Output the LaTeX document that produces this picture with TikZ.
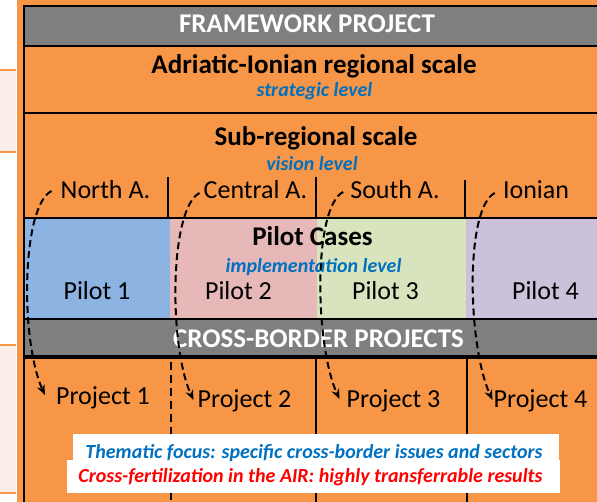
\documentclass[tikz,border=0pt]{standalone}
\usepackage{fontspec}
\setmainfont{Carlito}
\usetikzlibrary{arrows.meta}

\begin{document}
\begin{tikzpicture}[x=1pt,y=-1pt,
  scaletext/.style={anchor=base,inner sep=0pt,font=\fontsize{26}{28}\selectfont},
  headtext/.style={scaletext,font=\fontsize{27}{29}\selectfont\bfseries},
  leveltext/.style={anchor=base,inner sep=0pt,text=levelblue,font=\fontsize{20}{22}\selectfont\bfseries\itshape},
  flowarrow/.style={dash pattern=on 7pt off 4pt,line width=2pt,-{Stealth[length=10pt,width=8pt]}},
  divider/.style={line width=2pt}]
% Define scheme colours
\definecolor{frameorange}{RGB}{247,150,70}
\definecolor{framegray}{RGB}{127,127,127}
\definecolor{pilotblue}{RGB}{141,179,226}
\definecolor{pilotpink}{RGB}{230,185,184}
\definecolor{pilotgreen}{RGB}{215,228,189}
\definecolor{pilotpurple}{RGB}{204,193,218}
\definecolor{levelblue}{RGB}{0,112,192}
\definecolor{sidepink}{RGB}{251,238,233}

\fill[white] (0,0) rectangle (597,502);
\useasboundingbox (0,0) rectangle (597,502);

% Side panels
\fill[sidepink] (0,70) rectangle (16,152);
\draw[frameorange,line width=2pt] (0,70) -- (16,70) (0,152) -- (16,152);
\fill[sidepink] (0,345) rectangle (16,493);
\draw[frameorange,line width=2pt] (0,345) -- (16,345) (0,493) -- (16,493);

% Draw frame and rows
\fill[frameorange] (17,0) rectangle (597,502);
\fill[framegray] (24,6) rectangle (597,46);
\fill[pilotblue] (24,218) rectangle (170,319);
\fill[pilotpink] (170,218) rectangle (317,319);
\fill[pilotgreen] (317,218) rectangle (466,319);
\fill[pilotpurple] (466,218) rectangle (597,319);
\fill[framegray] (24,319) rectangle (597,357);

\draw[divider,line width=2.5pt] (24,502) -- (24,6) -- (597,6);
\foreach \y in {46,113,218,319}
  \draw[divider] (24,\y) -- (597,\y);
\draw[line width=4pt] (24,357) -- (597,357);
\draw[divider] (168,177) -- (168,218) (316,177) -- (316,218) (465,180) -- (465,218);
\draw[divider] (316,357) -- (316,502) (467,357) -- (467,502);
\draw[divider,dash pattern=on 8pt off 5pt] (171,362) -- (171,502);

% Add scales and levels
\node[headtext,text=white] (framework) at (307,33) {FRAMEWORK PROJECT};
\node[headtext] (regional) at (314,74) {Adriatic-Ionian regional scale};
\node[leveltext] (strategic) at (314.5,97) {strategic level};
\node[headtext] (subregional) at (316,146) {Sub-regional scale};
\node[leveltext] (vision) at (312,171) {vision level};

\node[scaletext] (north) at (105.5,199) {North A.};
\node[scaletext] (central) at (255.5,199) {Central A.};
\node[scaletext] (south) at (395,199) {South A.};
\node[scaletext] (ionian) at (536,199) {Ionian};

\node[headtext] (pilotcases) at (312.5,246) {Pilot Cases};
\node[leveltext] (implementation) at (313.5,273) {implementation level};
\node[scaletext] (pilot1) at (97,300) {Pilot 1};
\node[scaletext] (pilot2) at (238.5,300) {Pilot 2};
\node[scaletext] (pilot3) at (385.5,300) {Pilot 3};
\node[scaletext] (pilot4) at (545.5,300) {Pilot 4};

\node[headtext,text=white] (crossborder) at (318.5,348) {CROSS-BORDER PROJECTS};
\node[scaletext] (proj1) at (103,405) {Project 1};
\node[scaletext] (proj2) at (244.5,407) {Project 2};
\node[scaletext] (proj3) at (393.5,407) {Project 3};
\node[scaletext] (proj4) at (540.5,407) {Project 4};

% Add notes
\fill[white] (73,434) rectangle (559,460);
\fill[white] (67,460) rectangle (560,493);
\node[leveltext] (focus) at (314,458) {Thematic focus: specific cross-border issues and sectors};
\node[leveltext,text=red] (transfer) at (310.5,482) {Cross-fertilization in the AIR: highly transferrable results};

% Draw links to projects
\draw[flowarrow] ([shift={(-9,-8)}]north.base west) .. controls +(-30,15) and +(-25,-55) .. ([shift={(-11,-10)}]proj1.base west);
\draw[flowarrow] ([shift={(-4,-6)}]central.base west) .. controls +(-30,15) and +(-25,-55) .. ([shift={(-4,-7)}]proj2.base west);
\draw[flowarrow] ([shift={(-7,-7)}]south.base west) .. controls +(-30,15) and +(-25,-55) .. ([shift={(-7,-8)}]proj3.base west);
\draw[flowarrow] ([shift={(-8,-6)}]ionian.base west) .. controls +(-30,15) and +(-25,-55) .. ([shift={(-1,-7)}]proj4.base west);
\end{tikzpicture}
\end{document}
